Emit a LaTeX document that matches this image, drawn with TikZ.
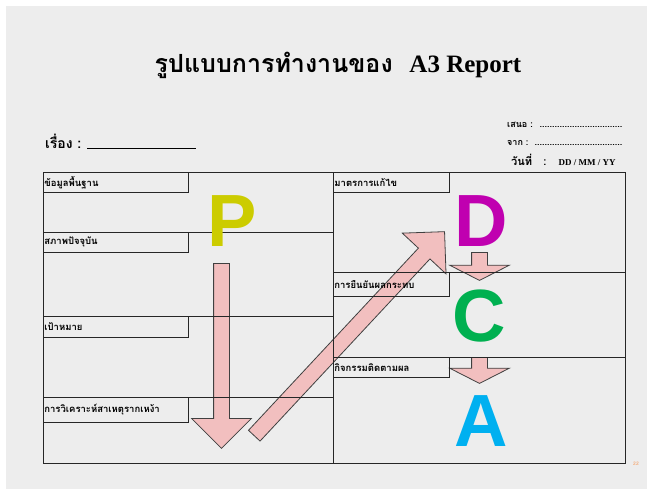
\documentclass[tikz,border=0pt]{standalone}
\usepackage{fontspec}
\setmainfont{Liberation Serif}
\newfontfamily\thaifont[Script=Thai]{Loma}
\newfontfamily\pdcafont{Liberation Sans}
\usetikzlibrary{shapes.arrows}

\definecolor{slidegray}{HTML}{EDEDED}
\definecolor{arrowpink}{HTML}{F2BFBF}
\definecolor{plancol}{HTML}{CCCC00}
\definecolor{docol}{HTML}{C000B0}
\definecolor{checkcol}{HTML}{00B050}
\definecolor{actcol}{HTML}{00B0F0}
\definecolor{pagecol}{HTML}{F4B183}

\tikzstyle{grid}=[draw=black!85,thick]
\tikzstyle{tag}=[draw=black!85,thick,anchor=north west,inner sep=1pt,align=left,font=\thaifont\bfseries\fontsize{9.5}{10}\selectfont]
\tikzstyle{pdca}=[font=\pdcafont\bfseries\fontsize{74}{74}\selectfont,inner sep=0pt]
\tikzstyle{flow}=[single arrow,draw=black!75,fill=arrowpink,thick,inner xsep=0pt,inner ysep=7.5pt,single arrow head extend=22pt,anchor=tail]
\tikzstyle{header}=[font=\thaifont\bfseries\fontsize{9}{10}\selectfont,anchor=base west,inner sep=0pt]
\newcommand{\dotrow}{\leaders\hbox{.}\hskip 0pt plus 1filll\null}

\begin{document}
\begin{tikzpicture}[x=1pt, y=-1pt]
    % Slide area
    \useasboundingbox (0,0) rectangle (653,495);
    \fill[white] (0,0) rectangle (653,495);
    \fill[slidegray] (6,6) rectangle (647,489);
    % Title and header texts
    \node[anchor=base,inner sep=0pt] (title) at (338,73)
        {\thaifont\bfseries\fontsize{25}{27}\selectfont รูปแบบการทำงานของ~~\rmfamily\bfseries A3 Report};
    \node[anchor=base west,inner sep=0pt,font=\thaifont\bfseries\fontsize{14}{15}\selectfont] (subject) at (45,148) {เรื่อง :};
    \draw[black,thick] (87,148) -- (196,148);
    \node[header,text width=117pt] (sender) at (507,127) {เสนอ : \dotrow};
    \node[header,text width=117pt] (from) at (507,145) {จาก : \dotrow};
    \node[header,font=\thaifont\bfseries\fontsize{11}{12}\selectfont] (date) at (511,165)
        {วันที่~~ :~~ {\rmfamily\bfseries\fontsize{9}{10}\selectfont DD / MM / YY}};
    % Arrows first, the table goes over them
    \node[flow,minimum height=185pt,rotate=-90] (plan2do) at (221.5,263) {};
    \node[flow,minimum height=279pt,rotate=47] (up2do) at (254,436) {};
    \node[flow,minimum height=28pt,rotate=-90,single arrow tip angle=126] (do2check) at (479.5,252) {};
    \node[flow,minimum height=26pt,rotate=-90,single arrow tip angle=126] (check2act) at (479.5,357) {};
    % Table lines
    \draw[grid] (43,172) rectangle (625,463);
    \draw[grid] (333,172) -- (333,463);
    \foreach \y in {232,316,397}
        \draw[grid] (43,\y) -- (333,\y);
    \foreach \y in {272,357}
        \draw[grid] (333,\y) -- (625,\y);
    % Labels of the left column
    \foreach \pos/\name/\h/\txt in {{(43,172)/bg/20/ข้อมูลพื้นฐาน}, {(43,232)/now/20/สภาพปัจจุบัน},
        {(43,316)/goal/21/เป้าหมาย}, {(43,397)/cause/25/การวิเคราะห์สาเหตุรากเหง้า}}
        \node[tag,text width=143pt,minimum height=\h pt] (\name) at \pos {\txt};
    % Labels of the right column
    \foreach \pos/\name/\h/\txt in {{(333,172)/fix/20/มาตรการแก้ไข}, {(333,272)/confirm/24/การยืนยันผลกระทบ},
        {(333,357)/follow/20/กิจกรรมติดตามผล}}
        \node[tag,text width=114pt,minimum height=\h pt] (\name) at \pos {\txt};
    % P D C A letters
    \foreach \pos/\name/\col in {{(232,221)/P/plancol}, {(481,221)/D/docol},
        {(479,316)/C/checkcol}, {(481,421)/A/actcol}}
        \node[pdca,text=\col] (\name) at \pos {\name};
    \node[font=\pdcafont\bfseries\fontsize{5}{5}\selectfont,text=pagecol,inner sep=0pt] (page) at (636,464) {22};
\end{tikzpicture}
\end{document}
